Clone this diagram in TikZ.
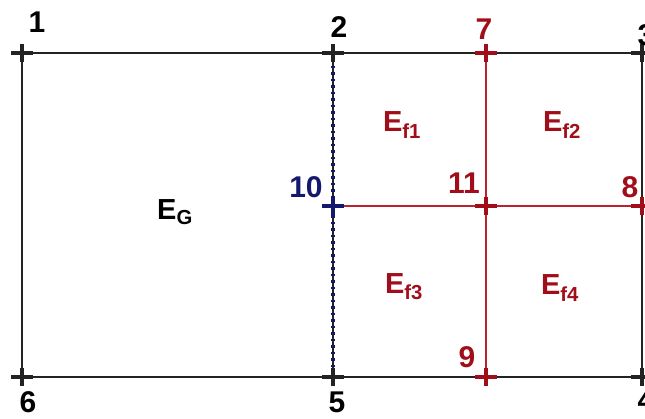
\documentclass[tikz,border=0pt]{standalone}
\usepackage{fontspec}
\setmainfont{Liberation Sans}
\usetikzlibrary{calc}
\definecolor{fred}{RGB}{160,15,25}
\definecolor{lred}{RGB}{185,35,45}
\definecolor{navyb}{RGB}{20,25,110}
\definecolor{gline}{RGB}{35,35,35}
\tikzset{
  edge/.style={draw=gline, line width=2pt},
  redline/.style={draw=lred, line width=2pt},
  num/.style={font=\fontsize{30}{30}\selectfont\bfseries, inner sep=0pt},
  elab/.style={font=\fontsize{29}{29}\selectfont\bfseries, inner sep=0pt},
  crossmark/.style={line width=4pt},
}
\begin{document}
\begin{tikzpicture}[x=1pt,y=-1pt]
\useasboundingbox (0,0) rectangle (645,419);
% grid points
\coordinate (n1) at (22,53);
\coordinate (n2) at (333,53);
\coordinate (n3) at (642,53);
\coordinate (n4) at (642,377);
\coordinate (n5) at (333,377);
\coordinate (n6) at (22,377);
\coordinate (n7) at (486,53);
\coordinate (n8) at (642,206);
\coordinate (n9) at (486,377);
\coordinate (n10) at (333,206);
\coordinate (n11) at (486,206);
% outer frame
\draw[edge] (n1) -- (n2) -- (n7) -- (n3) -- (n4) -- (n9) -- (n5) -- (n6) -- cycle;
% red lines
\draw[redline] (n7) -- (n11) -- (n9);
\draw[redline] (n10) -- (n11) -- (n8);
% dotted dividing line 2-5
\draw[gline, line width=1.6pt] (n2) -- (n5);
\draw[navyb, line width=3.4pt, dash pattern=on 2.5pt off 4pt] (n2) -- (n5);
% crosses
\foreach \p/\c in {n1/gline,n2/gline,n3/gline,n4/gline,n5/gline,n6/gline,n7/fred,n8/fred,n9/fred,n11/fred,n10/navyb}{
  \draw[crossmark, draw=\c] ($(\p)+(-11,0)$) -- ($(\p)+(11,0)$);
  \draw[crossmark, draw=\c] ($(\p)+(0,-9)$) -- ($(\p)+(0,9)$);
}
% labels
\node[num] (l1) at (37,22) {1};
\node[num] (l2) at (339,27) {2};
\node[num, text=fred] (l7) at (484,29) {7};
\node[num] (l3) at (646,35) {3};
\node[num, text=navyb] (l10) at (306,187) {10};
\node[num, text=fred] (l11) at (464,183) {11};
\node[num, text=fred] (l8) at (630,187) {8};
\node[num] (l6) at (28,402) {6};
\node[num] (l5) at (337,402) {5};
\node[num, text=fred] (l9) at (467,357) {9};
\node[num] (l4) at (646,400) {4};
% element labels
\node[elab] (eg) at (175,212) {E\textsubscript{G}};
\node[elab, text=fred] (ef1) at (402,125) {E\textsubscript{f1}};
\node[elab, text=fred] (ef2) at (562,125) {E\textsubscript{f2}};
\node[elab, text=fred] (ef3) at (404,287) {E\textsubscript{f3}};
\node[elab, text=fred] (ef4) at (560,288) {E\textsubscript{f4}};
\end{tikzpicture}
\end{document}
